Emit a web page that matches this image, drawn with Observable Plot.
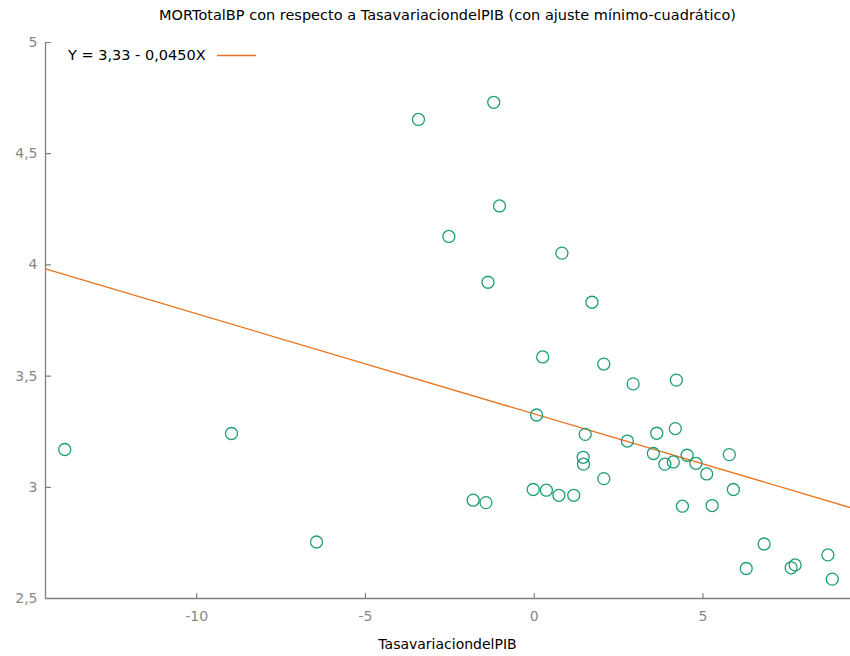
<!DOCTYPE html>
<html>
<head>
<meta charset="utf-8">
<script src="https://cdn.jsdelivr.net/npm/d3@7"></script>
<script src="https://cdn.jsdelivr.net/npm/@observablehq/plot@0.6"></script>
<style>
  body { margin: 0; background: #fff; font-family: "DejaVu Sans", sans-serif; }
  #wrap { position: relative; width: 850px; height: 656px; }
  #title { position: absolute; left: 45px; right: 0; top: 7px; text-align: center; font-size: 14.5px; color: #000; white-space: nowrap; }
  #legend { position: absolute; left: 68px; top: 47px; font-size: 14.5px; color: #000; display: flex; align-items: center; white-space: nowrap; }
  #legend svg { margin-left: 11px; display: block; }
  #xlabel { position: absolute; left: 45px; right: 0; top: 636px; text-align: center; font-size: 14px; color: #000; }
</style>
</head>
<body>
<div id="wrap">
  <div id="chart"></div>
  <div id="title"></div>
  <div id="legend"><span id="legtext"></span><svg width="39" height="6"><line x1="0" x2="39" y1="3.5" y2="3.5" stroke="#e8731c" stroke-width="1.4"></line></svg></div>
  <div id="xlabel"></div>
</div>
<script>
const title = "MORTotalBP con respecto a TasavariaciondelPIB (con ajuste mínimo-cuadrático)";
const xLabel = "TasavariaciondelPIB";
const legendLabel = "Y = 3,33 - 0,0450X";
const intercept = 3.33;
const slope = -0.0450;
const xDomain = [-14.48, 9.37];
const yDomain = [2.5, 5];
const xTicks = [-10, -5, 0, 5];
const yTicks = [2.5, 3, 3.5, 4, 4.5, 5];

const pib = [-13.91, -8.97, -6.45, -3.43, -1.20, -1.03, -2.53, -1.37, 0.82, 1.71,
             0.25, 2.06, 2.93, 4.21, 0.07, 1.51, 1.45, 1.46, 2.76, 3.63,
             4.18, 3.53, 4.53, 3.87, 4.12, 4.79, 5.11, 5.78, 5.90, 2.06,
             4.39, 5.27, -1.81, -1.43, -0.03, 0.36, 0.73, 1.17, 6.28, 6.81,
             7.61, 7.73, 8.70, 8.83];
const mort = [3.170, 3.242, 2.754, 4.654, 4.731, 4.265, 4.128, 3.922, 4.053, 3.832,
              3.586, 3.554, 3.465, 3.482, 3.325, 3.238, 3.135, 3.104, 3.208, 3.243,
              3.264, 3.152, 3.144, 3.104, 3.114, 3.108, 3.060, 3.147, 2.990, 3.039,
              2.915, 2.918, 2.942, 2.931, 2.990, 2.987, 2.964, 2.964, 2.635, 2.745,
              2.638, 2.651, 2.696, 2.587];

const points = pib.map((x, i) => ({x, y: mort[i]}));
const fit = xDomain.map(x => ({x, y: intercept + slope * x}));
const fmt = d => String(d).replace(".", ",");
const axisGray = "#808080";
const spike = { draw(context, l) { context.moveTo(0, 0); context.lineTo(0, -l); } };

document.getElementById("title").textContent = title;
document.getElementById("legtext").textContent = legendLabel;
document.getElementById("xlabel").textContent = xLabel;

const chart = Plot.plot({
  width: 850,
  height: 656,
  marginTop: 42,
  marginBottom: 58,
  marginLeft: 45,
  marginRight: 0,
  style: { fontFamily: "DejaVu Sans, sans-serif", fontSize: "14px", background: "#fff", overflow: "visible" },
  x: { domain: xDomain },
  y: { domain: yDomain },
  marks: [
    Plot.axisX(xTicks, { tickFormat: fmt, label: null, tickSize: 0, tickPadding: 13, color: "#888" }),
    Plot.axisY(yTicks, { tickFormat: fmt, label: null, tickSize: 0, tickPadding: 8, color: "#888" }),
    Plot.vector(xTicks, { x: d => d, y: yDomain[0], length: 5, rotate: 0, anchor: "start", shape: spike, stroke: axisGray, strokeWidth: 1.2 }),
    Plot.vector(yTicks, { x: xDomain[0], y: d => d, length: 5, rotate: 90, anchor: "start", shape: spike, stroke: axisGray, strokeWidth: 1.2 }),
    Plot.ruleY([yDomain[0]], { stroke: axisGray, strokeWidth: 1.3 }),
    Plot.ruleX([xDomain[0]], { stroke: axisGray, strokeWidth: 1.3 }),
    Plot.line(fit, { x: "x", y: "y", stroke: "#e8731c", strokeWidth: 1.3 }),
    Plot.dot(points, { x: "x", y: "y", r: 6, stroke: "#1f9e76", strokeWidth: 1.3, fill: "none" })
  ]
});
document.getElementById("chart").appendChild(chart);
</script>
</body>
</html>
